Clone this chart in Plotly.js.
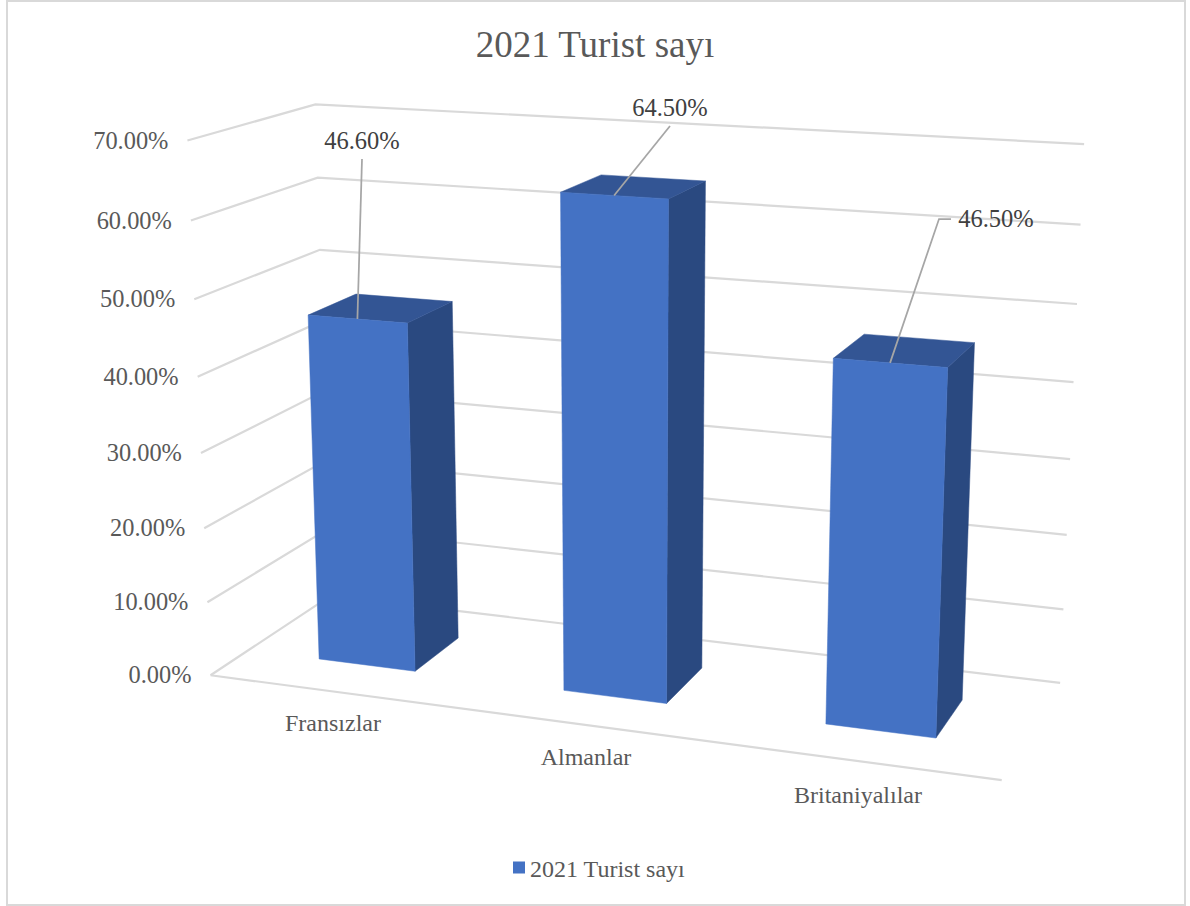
<!DOCTYPE html>
<html lang="tr">
<head>
<meta charset="utf-8">
<title>2021 Turist sayı</title>
<script src="https://cdn.plot.ly/plotly-3.0.1.min.js"></script>
<style>html,body{margin:0;padding:0;background:#fff}</style>
</head>
<body>
<div id="chart" style="width:1190px;height:906px"></div>
<script>
// Chart data
const categories = ['Fransızlar', 'Almanlar', 'Britaniyalılar'];
const touristShare = [46.6, 64.5, 46.5];
const valueLabels = ['46.60%', '64.50%', '46.50%'];
const tickValues = [0, 10, 20, 30, 40, 50, 60, 70];
const tickLabels = ['0.00%', '10.00%', '20.00%', '30.00%', '40.00%', '50.00%', '60.00%', '70.00%'];
const seriesName = '2021 Turist sayı';

// Box proportions in axis units: category axis 0..3, value axis 0..70, depth axis 0..1
const barInset = 0.3;
const depthNear = 0.3;
const depthFar = 0.7;

// Where the box corners fall on the page: [category, value, depth, px, py]
const boxAnchors = [
  [0, 0, 0, 211, 675], [3, 0, 0, 1002, 780], [0, 0, 1, 330, 596], [3, 0, 1, 1060, 683],
  [0, 70, 0, 187, 141], [0, 70, 1, 316, 104], [3, 70, 1, 1084, 144],
  [0, 50, 0, 194, 299], [0, 50, 1, 320, 250], [3, 50, 1, 1077, 304]
];

// Least-squares fit of the 3x4 perspective matrix for the box
function fitProjection(anchors) {
  const n = 11, A = Array.from({length: n}, () => new Array(n + 1).fill(0));
  const addRow = (row, rhs) => {
    for (let i = 0; i < n; i++) {
      for (let j = 0; j < n; j++) A[i][j] += row[i] * row[j];
      A[i][n] += row[i] * rhs;
    }
  };
  anchors.forEach(([u, v, w, px, py]) => {
    const V = v / 70, x = px / 1000, y = py / 1000;
    addRow([u, V, w, 1, 0, 0, 0, 0, -x * u, -x * V, -x * w], x);
    addRow([0, 0, 0, 0, u, V, w, 1, -y * u, -y * V, -y * w], y);
  });
  for (let c = 0; c < n; c++) {
    let p = c;
    for (let r = c + 1; r < n; r++) if (Math.abs(A[r][c]) > Math.abs(A[p][c])) p = r;
    [A[c], A[p]] = [A[p], A[c]];
    for (let r = 0; r < n; r++) {
      if (r === c) continue;
      const f = A[r][c] / A[c][c];
      for (let k = c; k <= n; k++) A[r][k] -= f * A[c][k];
    }
  }
  return A.map((row, i) => row[n] / row[i]);
}
const P = fitProjection(boxAnchors);
function project(u, v, w) {
  const V = v / 70;
  const d = P[8] * u + P[9] * V + P[10] * w + 1;
  return [1000 * (P[0] * u + P[1] * V + P[2] * w + P[3]) / d,
          1000 * (P[4] * u + P[5] * V + P[6] * w + P[7]) / d];
}

const traces = [];
const serif = '"Liberation Serif", "Times New Roman", serif';
const textTrace = (xs, ys, text, size, color, position) => ({
  x: xs, y: ys, text, mode: 'text', type: 'scatter', showlegend: false, hoverinfo: 'skip',
  textposition: position, textfont: {family: serif, size, color}
});
const lineTrace = (pts, color, width) => ({
  x: pts.map(p => p[0]), y: pts.map(p => p[1]), mode: 'lines', type: 'scatter',
  showlegend: false, hoverinfo: 'skip', line: {color, width}
});
const faceTrace = (pts, color) => ({
  x: pts.concat([pts[0]]).map(p => p[0]), y: pts.concat([pts[0]]).map(p => p[1]),
  mode: 'lines', type: 'scatter', fill: 'toself', fillcolor: color,
  line: {color, width: 0.5}, showlegend: false, hoverinfo: 'skip'
});

// Gridlines run along the left wall and then across the back wall
const gridColor = '#D9D9D9';
tickValues.forEach(t => {
  traces.push(lineTrace([project(0, t, 0), project(0, t, 1), project(3, t, 1)], gridColor, 2.2));
});
traces.push(lineTrace([project(0, 0, 0), project(3, 0, 0)], gridColor, 2.2));

// Three visible faces per bar
touristShare.forEach((val, i) => {
  const u0 = i + barInset, u1 = i + 1 - barInset;
  traces.push(faceTrace([project(u1, 0, depthNear), project(u1, 0, depthFar), project(u1, val, depthFar), project(u1, val, depthNear)], '#2A4980'));
  traces.push(faceTrace([project(u0, val, depthNear), project(u1, val, depthNear), project(u1, val, depthFar), project(u0, val, depthFar)], '#335594'));
  traces.push(faceTrace([project(u0, 0, depthNear), project(u1, 0, depthNear), project(u1, val, depthNear), project(u0, val, depthNear)], '#4472C4'));
});

// Value labels with their leader lines
const labelPoints = [[362, 143], [670, 110], [996, 221]];
const leaderBends = [[[362, 159]], [[670, 126]], [[951, 219], [939, 219]]];
touristShare.forEach((val, i) => {
  traces.push(lineTrace(leaderBends[i].concat([project(i + 0.5, val, depthNear)]), '#A6A6A6', 1.75));
});
traces.push(textTrace(labelPoints.map(p => p[0]), labelPoints.map(p => p[1]), valueLabels, 24.5, '#404040', 'middle center'));

// Value axis labels sit just left of the front wall edge
traces.push(textTrace(tickValues.map(t => project(0, t, 0)[0] - 19), tickValues.map(t => project(0, t, 0)[1] + 2),
  tickLabels, 24.4, '#595959', 'middle left'));

// Category labels below the front floor edge
const categoryPoints = [[333, 725], [586, 759], [858, 797]];
traces.push(textTrace(categoryPoints.map(p => p[0]), categoryPoints.map(p => p[1]), categories, 24, '#595959', 'middle center'));

// Series entry shown in the legend
traces.push({
  x: [null], y: [null], type: 'scatter', mode: 'markers', name: seriesName,
  marker: {symbol: 'square', size: 12, color: '#4472C4'}, showlegend: true
});

const layout = {
  width: 1190, height: 906, autosize: false,
  margin: {l: 0, r: 0, t: 0, b: 0},
  paper_bgcolor: '#FFFFFF', plot_bgcolor: '#FFFFFF',
  title: {text: seriesName, x: 0.5, xanchor: 'center', xref: 'paper', y: 1 - 44 / 906, yanchor: 'middle', yref: 'paper',
    font: {family: serif, size: 37, color: '#595959'}},
  xaxis: {range: [0, 1190], visible: false, fixedrange: true},
  yaxis: {range: [906, 0], visible: false, fixedrange: true},
  legend: {x: 490 / 1190, xanchor: 'left', y: 1 - 868 / 906, yanchor: 'middle', font: {family: serif, size: 24, color: '#595959'}, bgcolor: 'rgba(0,0,0,0)'},
  shapes: [{type: 'rect', xref: 'x', yref: 'y', x0: 7, x1: 1185, y0: 1, y1: 905, line: {color: '#D9D9D9', width: 2}, layer: 'below'}]
};

Plotly.newPlot('chart', traces, layout, {displayModeBar: false, staticPlot: true}).then(gd => {
  // Tighten the gap between the legend swatch and its text
  const swatch = gd.querySelector('.legendpoints');
  if (swatch) swatch.setAttribute('transform', 'translate(9,0)');
});
</script>
</body>
</html>
